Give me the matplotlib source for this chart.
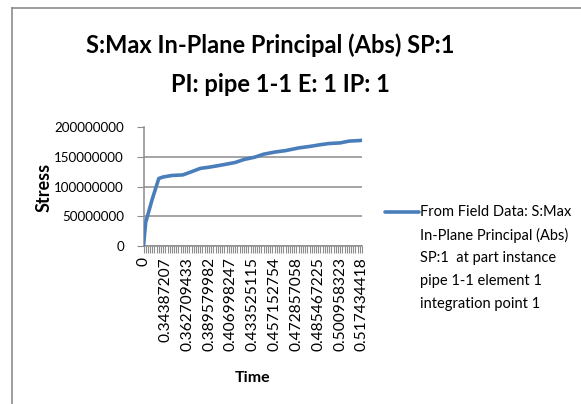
import matplotlib.pyplot as plt
from matplotlib.lines import Line2D
import numpy as np

plt.rcParams['font.family'] = ['Lato', 'DejaVu Sans']

# category index along the time axis and stress
cat_idx = [0, 1, 4, 7, 9, 13, 18, 21, 26, 30, 34, 37, 42, 46, 51, 55, 60,
           65, 69, 71, 76, 81, 85, 90, 94, 99, 100]
stress = [0, 40e6, 79e6, 114e6, 116.5e6, 119e6, 120e6, 124e6, 131e6, 133e6,
          135.5e6, 137.5e6, 141e6, 146e6, 150e6, 155e6, 158.5e6, 161e6,
          164e6, 165.5e6, 168e6, 171e6, 173e6, 174e6, 177e6, 178e6, 178.5e6]
n_cats = 101
tick_cats = [0, 10, 20, 30, 40, 50, 60, 70, 80, 90, 100]
tick_labels = ['0', '0.34387207', '0.362709433', '0.389579982', '0.406998247',
               '0.433525115', '0.457152754', '0.472857058', '0.485467225',
               '0.500958323', '0.517434418']
y_ticks = [0, 50000000, 100000000, 150000000, 200000000]
legend_lines = ['From Field Data: S:Max', 'In-Plane Principal (Abs)',
                'SP:1  at part instance', 'pipe 1-1 element 1',
                'integration point 1']

W, H = 581, 404
fig = plt.figure(figsize=(W / 100, H / 100), dpi=100, facecolor='white')

# outer chart frame (only left and top edges visible in the crop)
fig.add_artist(Line2D([12 / W, 12 / W], [0, 1 - 8 / H], color='#8c8c8c', lw=1.2))
fig.add_artist(Line2D([12 / W, 1], [1 - 8 / H, 1 - 8 / H], color='#8c8c8c', lw=1.2))

ax = fig.add_axes([143.5 / W, 1 - 246 / H, (362 - 143.5) / W, (246 - 127.5) / H])
ax.plot(cat_idx, stress, color='#4a7ebb', lw=2.6, solid_capstyle='round', zorder=3)

ax.set_xlim(0, n_cats - 1)
ax.set_ylim(0, 200000000)
ax.set_yticks(y_ticks)
ax.set_yticklabels([str(v) for v in y_ticks], fontsize=9.6)
ax.yaxis.grid(True, color='#8c8c8c', lw=1.1)
ax.set_axisbelow(True)

ax.set_xticks(tick_cats)
ax.set_xticks(np.arange(n_cats), minor=True)
ax.set_xticklabels(tick_labels, rotation=90, fontsize=11.2, va='top')

for side in ['top', 'right']:
    ax.spines[side].set_visible(False)
for side in ['left', 'bottom']:
    ax.spines[side].set_color('#8c8c8c')
    ax.spines[side].set_linewidth(1.1)
ax.tick_params(axis='both', which='both', color='#8c8c8c', length=5, width=0.8,
               labelcolor='black')
ax.tick_params(axis='x', which='major', pad=3)
ax.tick_params(axis='y', pad=9)

fig.text(44 / W, 1 - 187 / H, 'Stress', rotation=90, ha='center', va='center',
         fontsize=13, fontweight='bold')
fig.text(253 / W, 1 - 378 / H, 'Time', ha='center', va='center',
         fontsize=11.5, fontweight='bold')

fig.text(270 / W, 1 - 45 / H, 'S:Max In-Plane Principal (Abs) SP:1',
         ha='center', va='center', fontsize=17, fontweight='bold')
fig.text(280 / W, 1 - 85 / H, 'PI: pipe 1-1 E: 1 IP: 1',
         ha='center', va='center', fontsize=17, fontweight='bold')

# legend drawn by hand so the key sits on the first text line
fig.add_artist(Line2D([385 / W, 419 / W], [1 - 212 / H, 1 - 212 / H],
                      color='#4a7ebb', lw=2.6, solid_capstyle='round'))
for i, line in enumerate(legend_lines):
    fig.text(420 / W, 1 - (212 + 23 * i) / H, line, ha='left', va='center',
             fontsize=10.5)

fig.savefig('out.png', dpi=100, facecolor='white')
